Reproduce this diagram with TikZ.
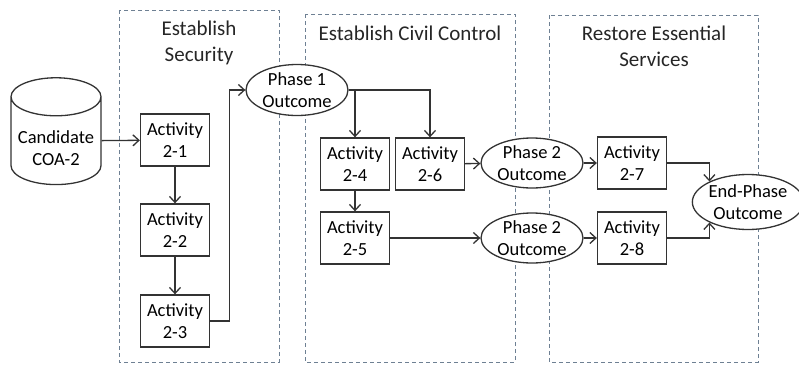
\documentclass[tikz,border=0pt]{standalone}
\usepackage{fontspec}
\setmainfont{Carlito}
\usetikzlibrary{shapes.geometric,arrows.meta}
\definecolor{lane}{HTML}{6E8093}
\definecolor{ink}{HTML}{333333}
\begin{document}
\begin{tikzpicture}[x=1pt,y=-1pt,>={Straight Barb[length=6pt,width=11pt]},
	line width=1.3pt,color=ink,
	lane box/.style={draw=lane,line width=0.9pt,dash pattern=on 4pt off 3pt},
	lane title/.style={font=\fontsize{21}{26}\selectfont,align=center,text=black!85},
	act node/.style={rectangle,draw,fill=white,minimum width=69pt,minimum height=52pt,inner sep=1pt,align=center,text=black,font=\fontsize{18.5}{22}\selectfont},
	out node/.style={ellipse,draw,fill=white,minimum width=102pt,minimum height=50pt,inner sep=0pt,align=center,text=black,font=\fontsize{18.5}{22}\selectfont}]
	
	\useasboundingbox (0,0) rectangle (799,364);
	
	% swim lanes
	\draw[lane box] (119,10) rectangle (279,362);
	\draw[lane box] (305,14) rectangle (515,362);
	\draw[lane box] (549,15) rectangle (758,362);
	\node[lane title] (t1) at (199,43) {Establish\\Security};
	\node[lane title] (t2) at (410,33) {Establish Civil Control};
	\node[lane title] (t3) at (654,46) {Restore Essential\\Services};
	
	% nodes
	\node[cylinder,shape border rotate=90,draw,fill=white,aspect=0.5,minimum width=90pt,minimum height=78pt,inner sep=0pt,align=center,text=black,font=\fontsize{18.5}{22}\selectfont] (cand) at (56,141) {\rule{0pt}{27pt}Candidate\\COA-2};
	\node[act node] (a21) at (175,140) {Activity\\2-1};
	\node[act node] (a22) at (175,230) {Activity\\2-2};
	\node[act node] (a23) at (175,321) {Activity\\2-3};
	\node[out node,minimum height=51pt] (p1) at (297,90) {Phase 1\\Outcome};
	\node[act node] (a24) at (355,164) {Activity\\2-4};
	\node[act node] (a26) at (430,164) {Activity\\2-6};
	\node[act node] (a25) at (355,238) {Activity\\2-5};
	\node[out node] (p2a) at (532,163) {Phase 2\\Outcome};
	\node[out node] (p2b) at (532,238) {Phase 2\\Outcome};
	\node[act node] (a27) at (632,163) {Activity\\2-7};
	\node[act node] (a28) at (632,238) {Activity\\2-8};
	\node[out node,minimum width=103pt,minimum height=55pt] (end) at (748,202) {End-Phase\\Outcome};
	
	% connectors
	\path[->] (cand) edge (a21);
	\path[->] (a21) edge (a22);
	\path[->] (a22) edge (a23);
	\draw[->] (a23.east) -- ++(19,0) |- (p1.west);
	\draw[->] (p1.east) -| (a26.north);
	\draw[->] (p1.east -| a24.north) -- (a24.north);
	\path[->] (a24) edge (a25);
	\path[->] (a26) edge (p2a);
	\path[->] (p2a) edge (a27);
	\path[->] (a25) edge (p2b);
	\path[->] (p2b) edge (a28);
	\draw[->] (a27.east) -| (end.152);
	\draw[->] (a28.east) -| (end.208);
\end{tikzpicture}
\end{document}
